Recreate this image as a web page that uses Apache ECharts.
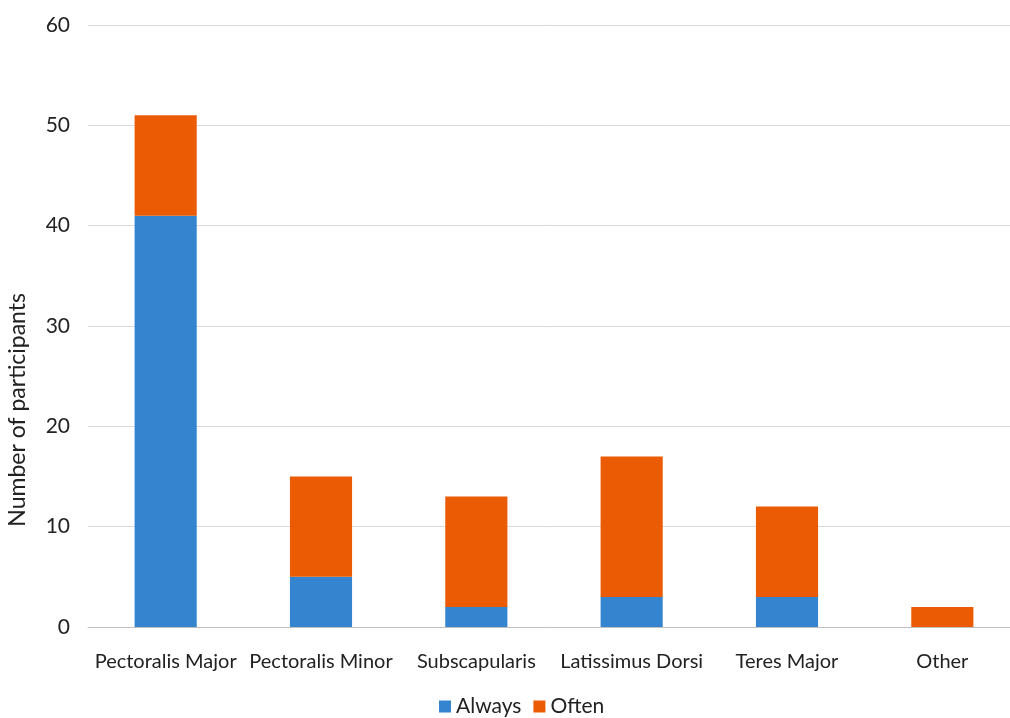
<!DOCTYPE html>
<html>
<head>
<meta charset="utf-8">
<script src="https://cdn.jsdelivr.net/npm/echarts@6/dist/echarts.min.js"></script>
<style>
  html, body { margin: 0; padding: 0; background: #fff; }
  #chart { width: 1010px; height: 718px; }
</style>
</head>
<body>
<div id="chart"></div>
<script>
  // muscles
  var categories = ['Pectoralis Major', 'Pectoralis Minor', 'Subscapularis', 'Latissimus Dorsi', 'Teres Major', 'Other'];
  var always = [41, 5, 2, 3, 3, 0];
  var often = [10, 10, 11, 14, 9, 2];
  var yTicks = { min: 0, max: 60, interval: 10 };

  var font = 'Lato, "Open Sans", sans-serif';

  var chart = echarts.init(document.getElementById('chart'));
  var option = {
    animation: false,
    color: ['#3584cf', '#ea5b04'],
    textStyle: { fontFamily: font },
    grid: {
      left: 88,
      top: 25,
      width: 932,
      height: 602,
      outerBoundsMode: 'none'
    },
    legend: {
      bottom: -4,
      left: 434,
      itemWidth: 12,
      itemHeight: 12,
      itemGap: 12,
      icon: 'rect',
      textStyle: { fontSize: 21, color: '#222', fontFamily: font },
      data: ['Always', 'Often']
    },
    xAxis: {
      type: 'category',
      data: categories,
      axisTick: { show: false },
      axisLine: { lineStyle: { color: '#bfbfbf', width: 1 } },
      axisLabel: { interval: 0, fontSize: 20, color: '#222', margin: 25, fontFamily: font }
    },
    yAxis: {
      type: 'value',
      min: yTicks.min,
      max: yTicks.max,
      interval: yTicks.interval,
      axisLine: { show: false },
      axisTick: { show: false },
      splitLine: { lineStyle: { color: '#d9d9d9', width: 1 } },
      axisLabel: { fontSize: 21, color: '#222', margin: 18, fontFamily: font }
    },
    graphic: [{
      type: 'text',
      left: 6,
      top: 293,
      rotation: Math.PI / 2,
      style: {
        text: 'Number of participants',
        fontSize: 23,
        fill: '#222',
        fontFamily: font
      }
    }],
    series: [
      {
        name: 'Always',
        type: 'bar',
        stack: 'total',
        barWidth: '40%',
        data: always
      },
      {
        name: 'Often',
        type: 'bar',
        stack: 'total',
        barWidth: '40%',
        data: often
      }
    ]
  };
  chart.setOption(option);
</script>
</body>
</html>
